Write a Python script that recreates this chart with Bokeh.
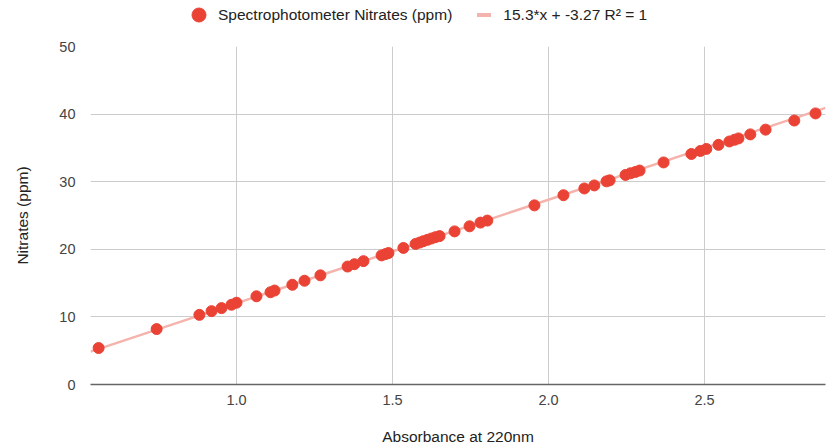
from bokeh.plotting import figure
from bokeh.layouts import column
from bokeh.models import ColumnDataSource, Legend, LegendItem, FixedTicker, PrintfTickFormatter, Range1d
from bokeh.embed import file_html
from bokeh.resources import INLINE

# Data
absorbance = [0.558, 0.744, 0.881, 0.920, 0.952, 0.984, 1.000, 1.064, 1.109, 1.122,
              1.179, 1.218, 1.269, 1.356, 1.378, 1.407, 1.465, 1.478, 1.487, 1.535,
              1.574, 1.587, 1.599, 1.612, 1.625, 1.638, 1.651, 1.699, 1.747, 1.782,
              1.804, 1.955, 2.048, 2.115, 2.147, 2.186, 2.196, 2.247, 2.263, 2.279,
              2.292, 2.369, 2.458, 2.487, 2.506, 2.545, 2.580, 2.596, 2.609, 2.647,
              2.696, 2.788, 2.856]
nitrates = [5.40, 8.20, 10.30, 10.85, 11.30, 11.80, 12.10, 13.05, 13.65, 13.90,
            14.75, 15.35, 16.15, 17.45, 17.80, 18.25, 19.10, 19.30, 19.45, 20.20,
            20.80, 21.00, 21.20, 21.40, 21.60, 21.80, 21.95, 22.65, 23.40, 23.95,
            24.25, 26.50, 28.00, 29.00, 29.45, 30.05, 30.20, 31.00, 31.25, 31.45,
            31.65, 32.85, 34.10, 34.55, 34.85, 35.45, 35.95, 36.20, 36.40, 37.00,
            37.70, 39.05, 40.10]
trend_slope = 15.3
trend_intercept = -3.27
x_ticks = [1.0, 1.5, 2.0, 2.5]
y_ticks = [0, 10, 20, 30, 40, 50]
series_label = "Spectrophotometer Nitrates (ppm)"
trend_label = "15.3*x + -3.27 R\u00b2 = 1"
x_title = "Absorbance at 220nm"
y_title = "Nitrates (ppm)"

X_MIN, X_MAX = 0.532, 2.888
Y_MIN, Y_MAX = 0, 50
FONT = "Liberation Sans"
RED = "#ea4335"
PINK = "#f4b3ac"
TEXT = "#222222"

# ---- legend strip (a figure of its own above the chart) ----
top = figure(width=830, height=37, output_backend="svg", toolbar_location=None,
             x_range=Range1d(0, 1), y_range=Range1d(0, 1),
             x_axis_location=None, y_axis_location=None, min_border=0)
top.grid.visible = False
top.outline_line_color = None
# legend proxies sit outside the visible range
leg_pts = top.scatter([-1], [-1], marker="circle", fill_color=RED, line_color=RED)
leg_line = top.scatter([-1], [-1], marker="dash", line_color=PINK, line_width=4)
legend = Legend(items=[LegendItem(label=series_label, renderers=[leg_pts]),
                       LegendItem(label=trend_label, renderers=[leg_line])],
                location=(91, 5), orientation="horizontal",
                glyph_width=35, glyph_height=35, label_standoff=2, spacing=14,
                padding=0, margin=0, border_line_alpha=0, background_fill_alpha=0,
                label_text_font=FONT, label_text_font_size="15.5px", label_text_color=TEXT)
top.add_layout(legend, "center")

# ---- chart ----
p = figure(width=830, height=410, output_backend="svg", toolbar_location=None,
           x_range=Range1d(X_MIN, X_MAX), y_range=Range1d(Y_MIN, Y_MAX),
           min_border_left=90, min_border_right=5, min_border_top=9, min_border_bottom=63)
p.outline_line_color = None
p.background_fill_color = "white"

tx = [X_MIN, X_MAX]
ty = [trend_slope * v + trend_intercept for v in tx]
p.line(tx, ty, line_color=PINK, line_width=2.5)

src = ColumnDataSource(dict(x=absorbance, y=nitrates))
p.scatter("x", "y", source=src, size=11, fill_color=RED, line_color=RED)

p.xaxis.ticker = FixedTicker(ticks=x_ticks)
p.xaxis.formatter = PrintfTickFormatter(format="%.1f")
p.yaxis.ticker = FixedTicker(ticks=y_ticks)
for ax in (p.xaxis, p.yaxis):
    ax.major_tick_line_color = None
    ax.minor_tick_line_color = None
    ax.major_label_text_font = FONT
    ax.major_label_text_font_size = "14.5px"
    ax.major_label_text_color = "#444444"
    ax.axis_label_text_font = FONT
    ax.axis_label_text_font_size = "15.5px"
    ax.axis_label_text_font_style = "normal"
    ax.axis_label_text_color = TEXT
p.yaxis.axis_line_color = None
p.xaxis.axis_line_color = "#666666"
p.xaxis.axis_line_width = 1.5
p.yaxis.major_label_standoff = 9
p.xaxis.major_label_standoff = 4
p.xaxis.axis_label = x_title
p.yaxis.axis_label = y_title
p.xaxis.axis_label_standoff = 20
p.yaxis.axis_label_standoff = 25

p.xgrid.ticker = FixedTicker(ticks=x_ticks)
p.ygrid.ticker = FixedTicker(ticks=y_ticks)
p.xgrid.grid_line_color = "#cccccc"
p.ygrid.grid_line_color = "#cccccc"

layout = column(top, p, spacing=0)
open("out.html", "w").write(file_html(layout, INLINE))
